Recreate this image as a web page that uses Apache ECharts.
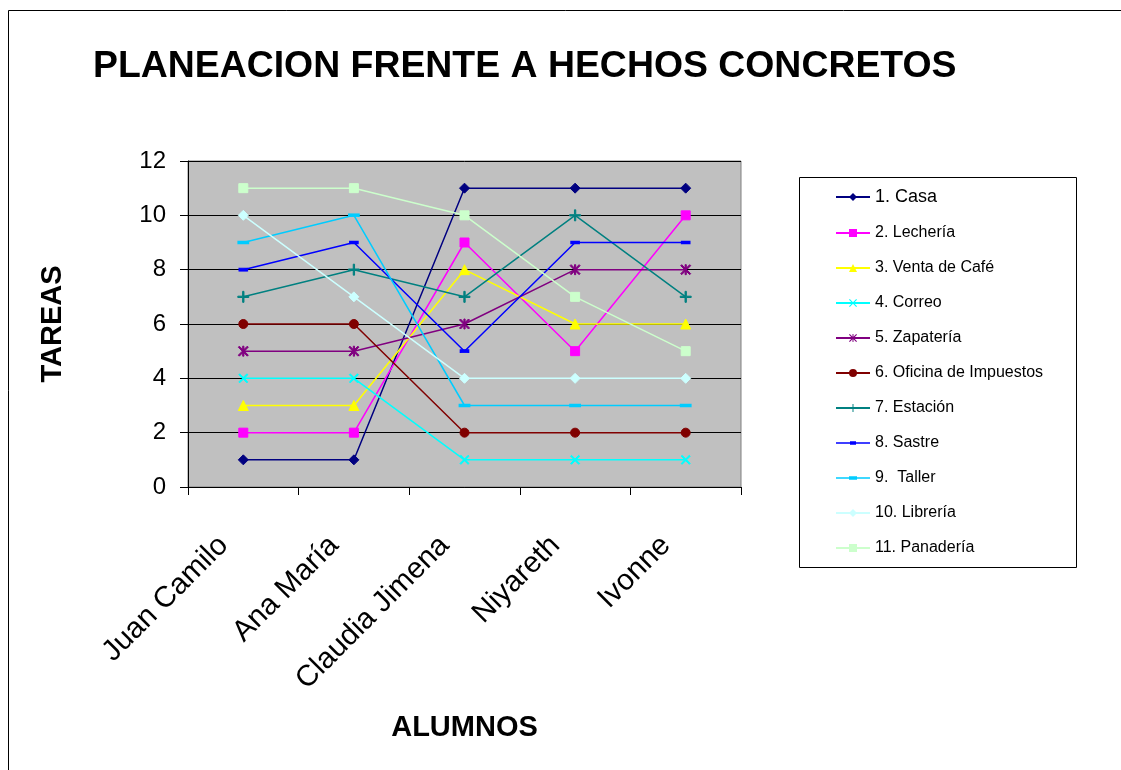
<!DOCTYPE html>
<html><head><meta charset="utf-8">
<script src="https://cdn.jsdelivr.net/npm/echarts@6/dist/echarts.min.js"></script>
<style>html,body{margin:0;padding:0;background:#fff}#c{width:1121px;height:770px}</style>
</head><body><div id="c"></div>
<script>
const categories = ['Juan Camilo', 'Ana María', 'Claudia Jimena', 'Niyareth', 'Ivonne'];
const seriesNames = ['1. Casa', '2. Lechería', '3. Venta de Café', '4. Correo', '5. Zapatería', '6. Oficina de Impuestos', '7. Estación', '8. Sastre', '9.  Taller', '10. Librería', '11. Panadería'];
const casa = [1, 1, 11, 11, 11];
const lecheria = [2, 2, 9, 5, 10];
const ventaCafe = [3, 3, 8, 6, 6];
const correo = [4, 4, 1, 1, 1];
const zapateria = [5, 5, 6, 8, 8];
const oficina = [6, 6, 2, 2, 2];
const estacion = [7, 8, 7, 10, 7];
const sastre = [8, 9, 5, 9, 9];
const taller = [9, 10, 3, 3, 3];
const libreria = [10, 7, 4, 4, 4];
const panaderia = [11, 11, 10, 7, 5];
const yTicks = [0, 2, 4, 6, 8, 10, 12];

const values = [casa, lecheria, ventaCafe, correo, zapateria, oficina, estacion, sastre, taller, libreria, panaderia];
const colors = ['#000080', '#FF00FF', '#FFFF00', '#00FFFF', '#800080', '#800000', '#008080', '#0000FF', '#00CCFF', '#CCFFFF', '#CCFFCC'];
const X = 'path://M0,1 L1,0 L5,4 L9,0 L10,1 L6,5 L10,9 L9,10 L5,6 L1,10 L0,9 L4,5 Z';
const PLUS = 'path://M4.4,0 L5.6,0 L5.6,4.4 L10,4.4 L10,5.6 L5.6,5.6 L5.6,10 L4.4,10 L4.4,5.6 L0,5.6 L0,4.4 L4.4,4.4 Z';
const AST = 'path://M0,1 L1,0 L5,4 L9,0 L10,1 L6,5 L10,9 L9,10 L5,6 L1,10 L0,9 L4,5 Z M4.4,0 L5.6,0 L5.6,10 L4.4,10 Z';
const symbols = ['diamond', 'rect', 'triangle', X, AST, 'circle', PLUS, 'rect', 'rect', 'diamond', 'rect'];
const sizes = [10, 9, 10, 9, 10, 9, 11, [8, 3], [10, 3], 10, 9];
const legendIcons = {
  '8. Sastre': 'path://M0,1 L34,1 L34,2.5 L0,2.5 Z M14,0 L20,0 L20,3.5 L14,3.5 Z',
  '9.  Taller': 'path://M0,1 L34,1 L34,2.5 L0,2.5 Z M13,0 L21,0 L21,3.5 L13,3.5 Z'
};

const font = '"Liberation Sans", Arial, sans-serif';
const chart = echarts.init(document.getElementById('c'), null, {renderer: 'canvas'});
chart.setOption({
  animation: false,
  backgroundColor: '#fff',
  title: {
    text: 'PLANEACION FRENTE A HECHOS CONCRETOS',
    left: 93, top: 48, padding: 0,
    textStyle: {fontFamily: font, fontWeight: 'bold', fontSize: 37.4, color: '#000'}
  },
  legend: {
    orient: 'vertical', left: 830, top: 183,
    itemWidth: 34, itemHeight: 10, itemGap: 19,
    textStyle: {fontFamily: font, fontSize: 16, lineHeight: 16, color: '#000',
      rich: {big: {fontFamily: font, fontSize: 18, lineHeight: 16, color: '#000'}}},
    formatter: name => name === seriesNames[0] ? '{big|' + name + '}' : name,
    data: seriesNames.map(n => legendIcons[n] ? {name: n, icon: legendIcons[n]} : n)
  },
  graphic: [
    {type: 'rect', shape: {x: 8.5, y: 10.5, width: 1200, height: 1000}, style: {fill: 'none', stroke: '#000', lineWidth: 1}, z: -10},
    {type: 'rect', shape: {x: 799.5, y: 177.5, width: 277, height: 390}, style: {fill: '#fff', stroke: '#000', lineWidth: 1}, z: -5}
  ],
  grid: {
    left: 188, right: 380, top: 161, bottom: 283,
    show: true, backgroundColor: '#C0C0C0', borderColor: '#808080', borderWidth: 1
  },
  xAxis: {
    type: 'category', data: categories, boundaryGap: true,
    name: 'ALUMNOS', nameLocation: 'middle', nameGap: 226,
    nameTextStyle: {fontFamily: font, fontWeight: 'bold', fontSize: 29, color: '#000'},
    axisLine: {lineStyle: {color: '#000', width: 1}},
    axisTick: {show: true, inside: false, length: 8, lineStyle: {color: '#000'}},
    axisLabel: {rotate: 45, fontFamily: font, fontSize: 29.5, color: '#000', margin: 34,
      padding: [0, 28, 0, 0]}
  },
  yAxis: {
    type: 'value', min: 0, max: 12, interval: 2,
    name: 'TAREAS', nameLocation: 'middle', nameGap: 121,
    nameTextStyle: {fontFamily: font, fontWeight: 'bold', fontSize: 29, color: '#000'},
    axisLine: {show: true, lineStyle: {color: '#000', width: 1}},
    axisTick: {show: true, inside: false, length: 8, lineStyle: {color: '#000'}},
    axisLabel: {fontFamily: font, fontSize: 24, color: '#000', margin: 22,
      formatter: v => yTicks.includes(v) ? String(v) : ''},
    splitLine: {show: true, lineStyle: {color: '#000', width: 1}}
  },
  series: values.map((d, i) => ({
    type: 'line', name: seriesNames[i], data: d,
    symbol: symbols[i], symbolSize: sizes[i],
    showAllSymbol: true,
    lineStyle: {color: colors[i], width: 1.5},
    itemStyle: {color: colors[i], borderColor: colors[i]},
    emphasis: {disabled: true}
  }))
});
</script></body></html>
